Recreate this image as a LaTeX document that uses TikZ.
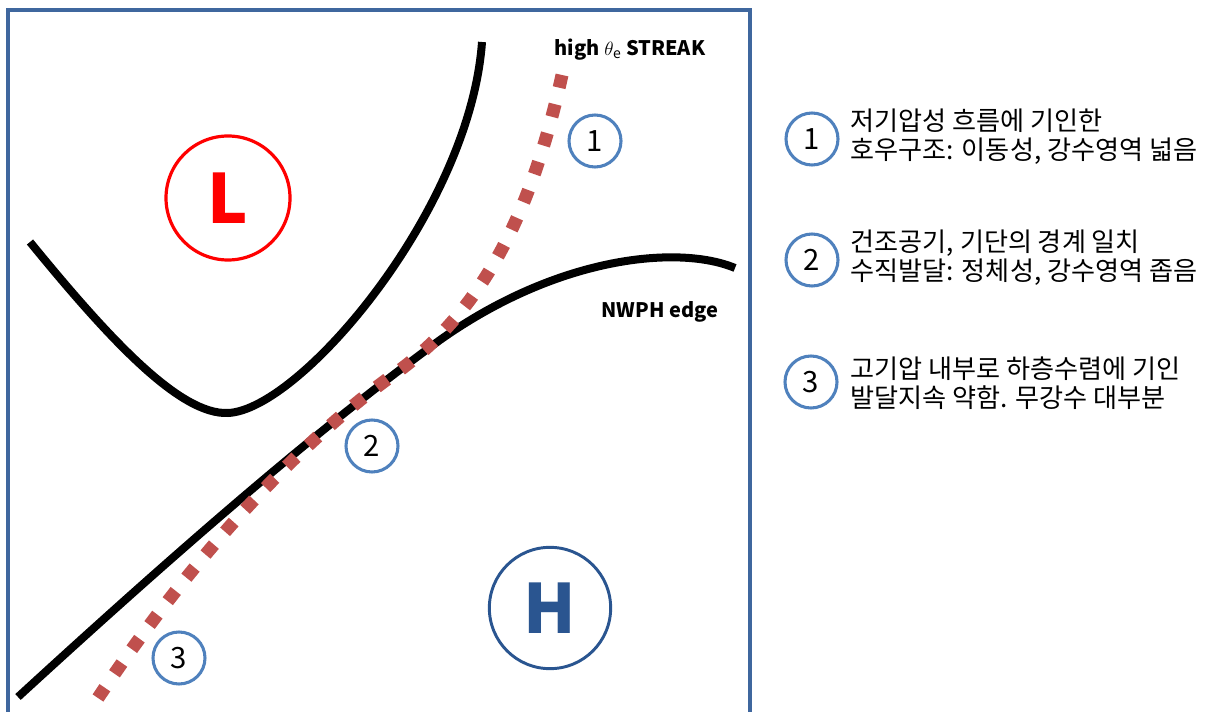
\documentclass[tikz,border=0pt]{standalone}
\usepackage{fontspec}
\setmainfont{Noto Sans CJK KR}
\usepackage{tikz}
\usetikzlibrary{positioning,calc}
\usepackage{xcolor}
\definecolor{framecol}{HTML}{3F679E}
\definecolor{numcol}{HTML}{4F81BD}
\definecolor{highcol}{HTML}{2A5590}
\definecolor{streakcol}{HTML}{C0504D}

\begin{document}
\begin{tikzpicture}[x=0.75pt,y=-0.75pt,
  numcirc/.style={circle,draw=numcol,line width=2.3pt,minimum size=39pt,inner sep=0pt,
    font=\fontsize{22}{22}\selectfont},
  legtext/.style={anchor=west,align=left,font=\fontsize{19.6}{22}\selectfont},
  tag/.style={font=\fontsize{15}{17}\selectfont\bfseries},
  bigletter/.style={font=\fontsize{51}{51}\selectfont\bfseries}]
\useasboundingbox (0,0) rectangle (1212,712);
% frame (open at the bottom)
\draw[framecol,line width=2.5pt] (8,712) -- (8,10) -- (750,10) -- (750,712);
% trough round the low
\draw[line width=6pt] (30,242) .. controls (110,340) and (180,415) .. (228,413)
  .. controls (300,410) and (470,210) .. (482,42);
% NWPH edge
\draw[line width=6pt] (18,697) .. controls (200,530) and (330,420) .. (440,340)
  .. controls (560,255) and (680,245) .. (735,268);
% high theta_e streak
\draw[streakcol,line width=9.75pt,dash pattern=on 9.75pt off 12.75pt]
  (562,75) .. controls (530,220) and (480,310) .. (400,370)
  .. controls (300,440) and (190,560) .. (98,698);
% pressure centres
\node[circle,draw=red,line width=2.4pt,minimum size=93pt,inner sep=0pt] (low) at (228,198) {};
\node[bigletter,text=red] (lowtxt) at (low) {L};
\node[circle,draw=highcol,line width=2.2pt,minimum size=91pt,inner sep=0pt] (high) at (550,608) {};
\node[bigletter,text=highcol] (hightxt) at (high) {H};
% labels
\node[tag] (streak) at (630,50) {high $\theta_{\mathrm e}$ STREAK};
\node[tag] (edge) at (660,312) {NWPH edge};
% numbered spots
\node[numcirc] (p1) at (595,141) {1};
\node[numcirc] (p2) at (372,446) {2};
\node[numcirc] (p3) at (179,658) {3};
% legend
\node[numcirc] (k1) at (812,139) {1};
\node[numcirc] (k2) at (812,260) {2};
\node[numcirc] (k3) at (811,382) {3};
\node[legtext] (t1) at (846,137) {저기압성 흐름에 기인한\\호우구조: 이동성, 강수영역 넓음};
\node[legtext] (t2) at (846,258) {건조공기, 기단의 경계 일치\\수직발달: 정체성, 강수영역 좁음};
\node[legtext] (t3) at (846,383) {고기압 내부로 하층수렴에 기인\\발달지속 약함. 무강수 대부분};
\end{tikzpicture}
\end{document}
